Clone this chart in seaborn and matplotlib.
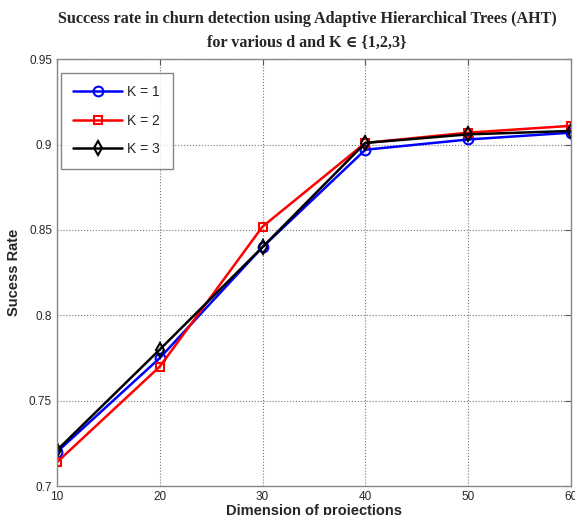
import matplotlib
matplotlib.use("Agg")
import matplotlib.pyplot as plt
import seaborn as sns
import pandas as pd

# Data
dims = [10, 20, 30, 40, 50, 60]
k1 = [0.720, 0.775, 0.840, 0.897, 0.903, 0.907]
k2 = [0.714, 0.770, 0.852, 0.901, 0.907, 0.911]
k3 = [0.721, 0.780, 0.840, 0.901, 0.906, 0.908]
labels = ["K = 1", "K = 2", "K = 3"]

df = pd.DataFrame({
    "d": dims * 3,
    "rate": k1 + k2 + k3,
    "K": [labels[0]] * 6 + [labels[1]] * 6 + [labels[2]] * 6,
})

sns.set_style("white")
plt.rcParams["font.family"] = ["Liberation Sans", "DejaVu Sans"]

fig = plt.figure(figsize=(5.75, 5.15), dpi=100)
ax = fig.add_axes([0.099, 0.056, 0.894, 0.829])

colors = {"K = 1": "#0000ff", "K = 2": "#ff0000", "K = 3": "#000000"}
markers = {"K = 1": "o", "K = 2": "s", "K = 3": "d"}
sizes = {"K = 1": 7, "K = 2": 6, "K = 3": 7}

for k in labels:
    sub = df[df["K"] == k]
    sns.lineplot(data=sub, x="d", y="rate", ax=ax, color=colors[k], label=k,
                 linewidth=1.8, marker=markers[k], markersize=sizes[k],
                 markerfacecolor="none", markeredgecolor=colors[k],
                 markeredgewidth=1.5)

ax.set_xlim(10, 60)
ax.set_ylim(0.7, 0.95)
ax.set_xticks(dims)
ax.set_yticks([0.7, 0.75, 0.8, 0.85, 0.9, 0.95])
ax.set_yticklabels(["0.7", "0.75", "0.8", "0.85", "0.9", "0.95"])
ax.tick_params(direction="in", length=4, labelsize=8.5, color="#555555",
               top=True, right=True)
ax.grid(True, linestyle=":", color="#777777", linewidth=0.8)
for s in ax.spines.values():
    s.set_color("#888888")
    s.set_linewidth(1.0)

ax.set_xlabel("Dimension of projections", fontsize=10.5, fontweight="bold", labelpad=1)
ax.set_ylabel("Sucess Rate", fontsize=10.5, fontweight="bold", labelpad=6)

fig.suptitle("Success rate in churn detection using Adaptive Hierarchical Trees (AHT)\n"
             "for various d and K \u2208 {1,2,3}",
             fontsize=11.6, fontweight="bold", family=["Liberation Serif", "DejaVu Serif"],
             x=0.534, y=0.979, linespacing=1.7)

leg = ax.legend(loc="upper left", bbox_to_anchor=(-0.006, 0.985), fontsize=10,
                frameon=True, fancybox=False, edgecolor="#666666",
                handlelength=3.5, borderpad=0.9, labelspacing=1.05,
                handletextpad=0.4)
leg.get_frame().set_linewidth(1.0)

fig.savefig("out.png", dpi=100)
